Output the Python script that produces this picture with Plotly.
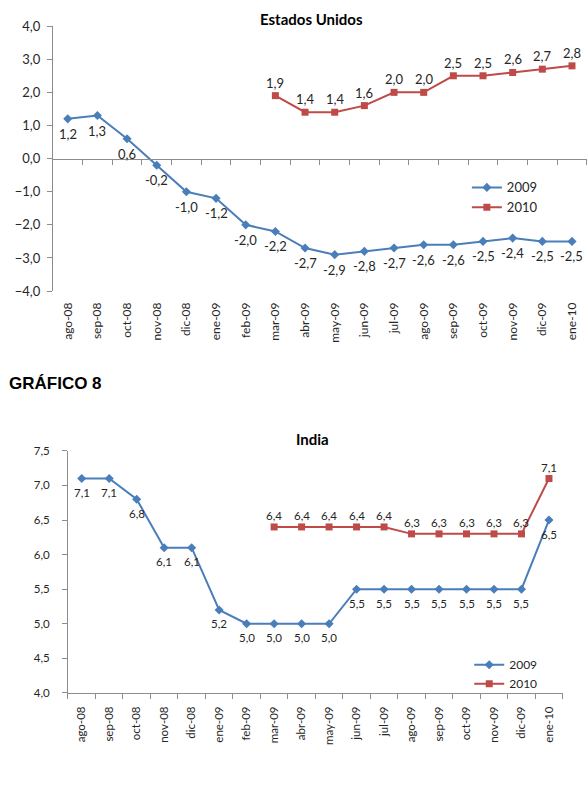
import plotly.graph_objects as go

months = ["ago-08", "sep-08", "oct-08", "nov-08", "dic-08", "ene-09", "feb-09", "mar-09", "abr-09",
          "may-09", "jun-09", "jul-09", "ago-09", "sep-09", "oct-09", "nov-09", "dic-09", "ene-10"]
months_2010 = months[7:]

us_2009 = [1.2, 1.3, 0.6, -0.2, -1.0, -1.2, -2.0, -2.2, -2.7, -2.9, -2.8, -2.7, -2.6, -2.6, -2.5, -2.4, -2.5, -2.5]
us_2010 = [1.9, 1.4, 1.4, 1.6, 2.0, 2.0, 2.5, 2.5, 2.6, 2.7, 2.8]

in_2009 = [7.1, 7.1, 6.8, 6.1, 6.1, 5.2, 5.0, 5.0, 5.0, 5.0, 5.5, 5.5, 5.5, 5.5, 5.5, 5.5, 5.5, 6.5]
in_2010 = [6.4, 6.4, 6.4, 6.4, 6.4, 6.3, 6.3, 6.3, 6.3, 6.3, 7.1]

BLUE = "#4A7EBB"
RED = "#BE4B48"
AX = "#8C8C8C"
TXT = "#262626"
FONT = "Lato"

def lab(v):
    return f"{v:.1f}".replace(".", ",")

idx_all = list(range(len(months)))
idx_2010 = [months.index(m) for m in months_2010]

fig = go.Figure()
annotations = []

bounds = [i - 0.5 for i in range(len(months) + 1)]
rng = [-0.5, len(months) - 0.5]

top_dom = [0.632, 0.967]
top_x = [0.090, 0.998]
top_rng = [-4, 4]
y0_pos = top_dom[0] + (0 - top_rng[0]) / (top_rng[1] - top_rng[0]) * (top_dom[1] - top_dom[0])

# helper traces so the tick-mark axes are drawn (invisible)
fig.add_trace(go.Scatter(x=rng, y=[0, 0], mode="lines", line=dict(width=0), opacity=0,
                         showlegend=False, hoverinfo="skip", xaxis="x3", yaxis="y3"))
fig.add_trace(go.Scatter(x=rng, y=[5, 5], mode="lines", line=dict(width=0), opacity=0,
                         showlegend=False, hoverinfo="skip", xaxis="x4", yaxis="y2"))

def add(x, y, name, color, symbol, size, xa, ya, legend, shift, fsize):
    fig.add_trace(go.Scatter(
        x=x, y=y, name=name, mode="lines+markers",
        line=dict(color=color, width=2),
        marker=dict(color=color, symbol=symbol, size=size),
        xaxis=xa, yaxis=ya, legend=legend, cliponaxis=False))
    for xi, yi in zip(x, y):
        annotations.append(dict(x=xi, y=yi, xref=xa, yref=ya, text=lab(yi), showarrow=False,
                                yshift=shift, font=dict(family=FONT, size=fsize, color=TXT)))

add(idx_all, us_2009, "2009", BLUE, "diamond", 7, "x", "y", "legend", -15, 13)
add(idx_2010, us_2010, "2010", RED, "square", 7, "x", "y", "legend", 13, 13)
add(idx_all, in_2009, "2009", BLUE, "diamond", 7, "x2", "y2", "legend2", -14, 11.5)
add(idx_2010, in_2010, "2010", RED, "square", 7, "x2", "y2", "legend2", 11, 11.5)

fig.update_layout(
    width=588, height=791,
    margin=dict(l=0, r=0, t=0, b=0, autoexpand=False),
    paper_bgcolor="white", plot_bgcolor="rgba(0,0,0,0)",
    separators=",.",
    showlegend=True,
    xaxis=dict(domain=top_x, anchor="y", range=rng, tickvals=idx_all, ticktext=months,
               tickangle=-90, showline=False, ticks="", showgrid=False, zeroline=False,
               automargin=False,
               tickfont=dict(family=FONT, size=12, color=TXT), ticklabelstandoff=8),
    yaxis=dict(domain=top_dom, anchor="x", range=top_rng, dtick=1, tickformat=".1f",
               showline=True, linecolor=AX, ticks="outside", ticklen=5, tickcolor=AX,
               showgrid=False, zeroline=False, ticklabelstandoff=4, automargin=False,
               tickfont=dict(family=FONT, size=13, color=TXT)),
    # axis drawn along the zero level of the top chart (line + boundary ticks)
    xaxis3=dict(domain=top_x, anchor="y3", side="bottom", range=rng,
                tickvals=bounds, showticklabels=False, ticks="outside", ticklen=5, tickcolor=AX,
                showline=True, linecolor=AX, showgrid=False, zeroline=False, automargin=False),
    yaxis3=dict(domain=[y0_pos, y0_pos + 0.01], anchor="x3", range=[-1, 1], visible=False,
                automargin=False),
    xaxis2=dict(domain=[0.1156, 0.957], anchor="y2", range=rng, tickvals=idx_all, ticktext=months,
                tickangle=-90, showline=True, linecolor=AX, ticks="", showgrid=False, zeroline=False,
                automargin=False,
                tickfont=dict(family=FONT, size=11.5, color=TXT), ticklabelstandoff=8),
    yaxis2=dict(domain=[0.124, 0.430], anchor="x2", range=[4, 7.5], dtick=0.5, tickformat=".1f",
                showline=True, linecolor=AX, ticks="outside", ticklen=5, tickcolor=AX,
                showgrid=False, zeroline=False, ticklabelstandoff=10, automargin=False,
                tickfont=dict(family=FONT, size=11.5, color=TXT)),
    xaxis4=dict(overlaying="x2", anchor="y2", side="bottom", range=rng, tickvals=bounds,
                showticklabels=False, ticks="outside", ticklen=5, tickcolor=AX,
                showline=False, showgrid=False, zeroline=False, automargin=False),
    legend=dict(x=0.794, y=0.782, xanchor="left", yanchor="top", bgcolor="rgba(0,0,0,0)",
                font=dict(family=FONT, size=13, color=TXT), tracegroupgap=0),
    legend2=dict(x=0.798, y=0.178, xanchor="left", yanchor="top", bgcolor="rgba(0,0,0,0)",
                 font=dict(family=FONT, size=12, color=TXT), tracegroupgap=0),
    annotations=annotations + [
        dict(text="<b>Estados Unidos</b>", x=311 / 588, y=1 - 19 / 791, xref="paper", yref="paper",
             yanchor="middle", showarrow=False, font=dict(family=FONT, size=15, color="black")),
        dict(text="<b>India</b>", x=312 / 588, y=1 - 439 / 791, xref="paper", yref="paper",
             yanchor="middle", showarrow=False, font=dict(family=FONT, size=15, color="black")),
        dict(text="<b>GRÁFICO 8</b>", x=7 / 588, y=1 - 384 / 791, xref="paper", yref="paper",
             xanchor="left", yanchor="middle", showarrow=False,
             font=dict(family="Liberation Sans", size=17, color="black")),
    ],
)

fig.write_html("out.html")
